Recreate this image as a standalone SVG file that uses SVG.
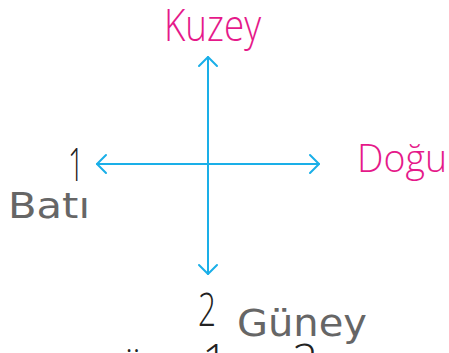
<svg xmlns="http://www.w3.org/2000/svg" width="449" height="353" viewBox="0 0 449 353">
<style>
.ax{stroke:#1aafe8;stroke-width:2;fill:none;stroke-linecap:round;stroke-linejoin:round}
.dir{font-family:"Open Sans","Liberation Sans",Arial,sans-serif;font-weight:300;fill:#e5198a}
.num{font-family:"Open Sans","Liberation Sans",Arial,sans-serif;font-weight:300;fill:#222}
.hand{font-family:"DejaVu Sans",sans-serif;fill:#666}
</style>
<rect width="449" height="353" fill="#fff"/>
<g id="connectors">
<path class="ax" d="M208,57 V274 M97,164 H319"/>
<path class="ax" d="M199,66 L208,57 L217,66"/>
<path class="ax" d="M199,265 L208,274 L217,265"/>
<path class="ax" d="M106,155 L97,164 L106,173"/>
<path class="ax" d="M310,155 L319,164 L310,173"/>
</g>
<g id="kuzey"><text class="dir" x="164" y="41" font-size="44" textLength="97" lengthAdjust="spacingAndGlyphs">Kuzey</text></g>
<g id="dogu"><text class="dir" x="357" y="172" font-size="39" textLength="90" lengthAdjust="spacingAndGlyphs">Doğu</text></g>
<g id="bati"><text class="num" x="68" y="181" font-size="46" textLength="16" lengthAdjust="spacingAndGlyphs">1</text>
<text class="hand" x="8" y="218" font-size="36" textLength="82" lengthAdjust="spacingAndGlyphs">Batı</text></g>
<g id="guney"><text class="num" x="198" y="326" font-size="46" textLength="18" lengthAdjust="spacingAndGlyphs">2</text>
<text class="hand" x="237" y="336" font-size="38" textLength="130" lengthAdjust="spacingAndGlyphs">Güney</text></g>
<g id="bottom">
<text class="num" x="121" y="378" font-size="40">ü</text>
<text class="num" x="202" y="377" font-size="46">1</text>
<text class="num" x="292" y="377" font-size="46">2</text>
</g>
</svg>
